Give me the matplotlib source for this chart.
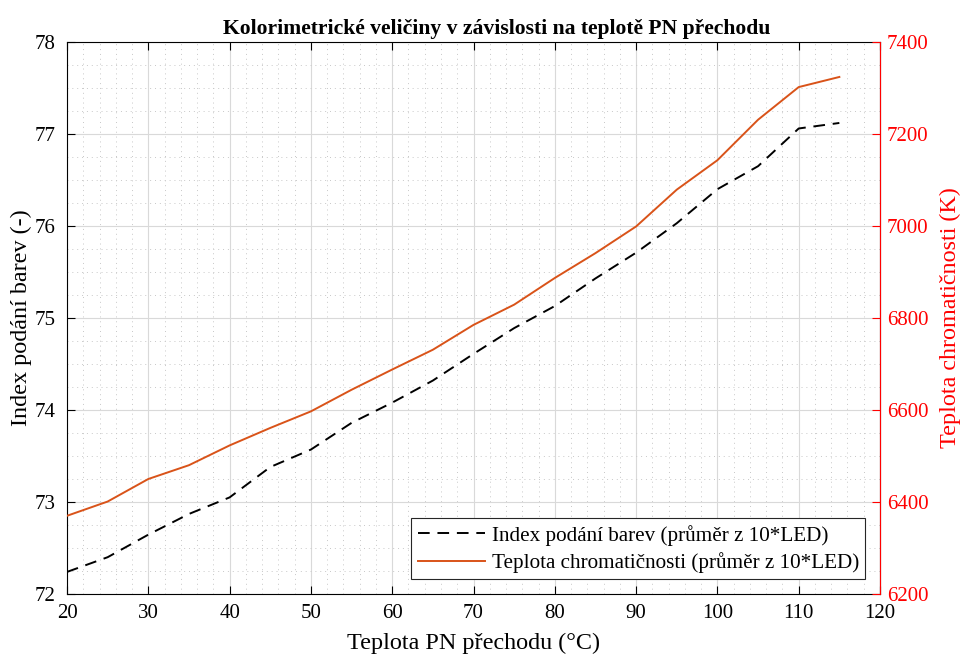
import numpy as np
import matplotlib
matplotlib.use('Agg')
import matplotlib.pyplot as plt
from matplotlib.ticker import MultipleLocator

plt.rcParams['font.family'] = ['Liberation Serif', 'DejaVu Serif']

teplota = [20, 25, 30, 35, 40, 45, 50, 55, 60, 65, 70, 75, 80, 85, 90, 95, 100, 105, 110, 115]
index_barev = [72.24, 72.40, 72.645, 72.87, 73.05, 73.38, 73.57, 73.86, 74.08, 74.32,
               74.61, 74.89, 75.13, 75.43, 75.71, 76.03, 76.40, 76.65, 77.06, 77.12]
teplota_chrom = [6370, 6401, 6450, 6480, 6523, 6561, 6597, 6644, 6688, 6731,
                 6785, 6829, 6887, 6941, 6999, 7079, 7143, 7231, 7302, 7324]

fig = plt.figure(figsize=(9.62, 6.55), dpi=100)
ax = fig.add_axes([67/962, 1-594/655, (880-67)/962, (594-42)/655])
ax2 = ax.twinx()

l1, = ax.plot(teplota, index_barev, '--', color='black', lw=1.4, dashes=(6, 4),
              label='Index podání barev (průměr z 10*LED)')
l2, = ax2.plot(teplota, teplota_chrom, '-', color='#D95319', lw=1.4,
               label='Teplota chromatičnosti (průměr z 10*LED)')

ax.set_xlim(20, 120)
ax.set_ylim(72, 78)
ax2.set_ylim(6200, 7400)
ax.xaxis.set_major_locator(MultipleLocator(10))
ax.xaxis.set_minor_locator(MultipleLocator(2))
ax.yaxis.set_major_locator(MultipleLocator(1))
ax.yaxis.set_minor_locator(MultipleLocator(0.25))
ax2.yaxis.set_major_locator(MultipleLocator(200))
ax2.yaxis.set_minor_locator(MultipleLocator(50))

ax.grid(True, which='major', color='#d9d9d9', lw=0.8)
ax.grid(True, which='minor', color='#c8c8c8', lw=0.7, ls=(0, (1, 4)))
ax.set_axisbelow(True)

ax.tick_params(which='major', direction='in', length=6, labelsize=15, top=True, right=False)
ax.tick_params(axis='y', pad=8)
ax.tick_params(axis='x', pad=7)
ax.tick_params(which='minor', length=0)
ax2.tick_params(which='major', direction='in', length=6, labelsize=15, colors='red', pad=5)
ax2.tick_params(which='minor', length=0)
ax2.spines['right'].set_color('red')
for s in ['left', 'top', 'bottom']:
    ax2.spines[s].set_visible(False)

ax.set_xlabel('Teplota PN přechodu (°C)', fontsize=17.4, labelpad=7)
ax.set_ylabel('Index podání barev (-)', fontsize=17.4, labelpad=2)
ax2.set_ylabel('Teplota chromatičnosti (K)', fontsize=17.4, color='red', labelpad=8)
ttl = ax.set_title('Kolorimetrické veličiny v závislosti na teplotě PN přechodu',
                   fontsize=15.6, fontweight='bold', pad=6)
ttl.set_x(0.529)

leg = ax2.legend(handles=[l1, l2], loc='lower right', fontsize=15.2, fancybox=False,
                 edgecolor='#262626', framealpha=1, borderaxespad=0.7,
                 handlelength=3.2, borderpad=0.3, labelspacing=0.3, handletextpad=0.3)
leg.get_frame().set_linewidth(0.8)

fig.savefig('out.png', dpi=100)
